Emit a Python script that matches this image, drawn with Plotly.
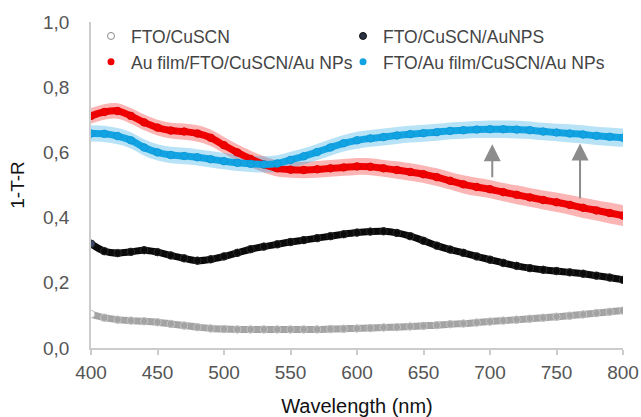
import plotly.graph_objects as go

wavelength = list(range(400, 801, 10))

fto_cuscn = [0.104, 0.093, 0.087, 0.084, 0.082, 0.079, 0.074, 0.069, 0.064, 0.060,
             0.058, 0.057, 0.057, 0.057, 0.057, 0.057, 0.057, 0.057, 0.058, 0.059,
             0.060, 0.061, 0.063, 0.064, 0.066, 0.068, 0.070, 0.073, 0.075, 0.078,
             0.081, 0.084, 0.087, 0.090, 0.093, 0.096, 0.099, 0.103, 0.107, 0.111, 0.115]

fto_cuscn_aunps = [0.320, 0.297, 0.291, 0.295, 0.300, 0.294, 0.284, 0.275, 0.268, 0.272,
                   0.281, 0.292, 0.303, 0.311, 0.318, 0.325, 0.331, 0.337, 0.343, 0.349,
                   0.354, 0.357, 0.358, 0.353, 0.343, 0.329, 0.314, 0.302, 0.292, 0.281,
                   0.271, 0.261, 0.252, 0.245, 0.240, 0.236, 0.232, 0.228, 0.222, 0.216, 0.209]

aufilm_fto = [0.712, 0.724, 0.727, 0.712, 0.692, 0.676, 0.667, 0.664, 0.658, 0.645,
              0.622, 0.600, 0.580, 0.563, 0.551, 0.547, 0.546, 0.548, 0.551, 0.554,
              0.557, 0.556, 0.551, 0.546, 0.540, 0.533, 0.524, 0.513, 0.502, 0.494,
              0.487, 0.478, 0.470, 0.462, 0.454, 0.447, 0.439, 0.430, 0.422, 0.414, 0.406]

aufilm_fto_err = [0.024, 0.024, 0.024, 0.024, 0.024, 0.024, 0.024, 0.025, 0.025, 0.025,
                  0.025, 0.025, 0.025, 0.025, 0.025, 0.025, 0.025, 0.026, 0.026, 0.026,
                  0.026, 0.026, 0.026, 0.027, 0.027, 0.027, 0.027, 0.027, 0.028, 0.028,
                  0.028, 0.028, 0.029, 0.029, 0.029, 0.030, 0.030, 0.031, 0.031, 0.032, 0.032]

fto_aufilm = [0.658, 0.657, 0.650, 0.637, 0.615, 0.600, 0.592, 0.589, 0.585, 0.579,
              0.573, 0.568, 0.565, 0.563, 0.566, 0.577, 0.588, 0.601, 0.615, 0.628,
              0.637, 0.643, 0.647, 0.652, 0.656, 0.659, 0.662, 0.666, 0.668, 0.670,
              0.671, 0.671, 0.670, 0.668, 0.664, 0.661, 0.658, 0.655, 0.651, 0.648, 0.645]

fto_aufilm_err = [0.025, 0.025, 0.025, 0.025, 0.025, 0.025, 0.025, 0.025, 0.025, 0.025,
                  0.025, 0.025, 0.025, 0.025, 0.025, 0.025, 0.025, 0.025, 0.025, 0.025,
                  0.026, 0.026, 0.026, 0.026, 0.026, 0.026, 0.026, 0.026, 0.026, 0.026,
                  0.027, 0.027, 0.027, 0.027, 0.027, 0.027, 0.028, 0.028, 0.028, 0.028, 0.028]

arrow_x = [701.7, 767.7]
arrow_tail = [0.519, 0.455]
arrow_tip = [0.625, 0.627]

names = ["FTO/CuSCN", "FTO/CuSCN/AuNPS", "Au film/FTO/CuSCN/Au NPs", "FTO/Au film/CuSCN/Au NPs"]
legend_ids = ["legend", "legend2", "legend", "legend2"]

FONT = "Liberation Sans, Arial, sans-serif"
fig = go.Figure()


def band(y, err, color):
    upper = [a + b for a, b in zip(y, err)]
    lower = [a - b for a, b in zip(y, err)]
    fig.add_trace(go.Scatter(x=wavelength, y=upper, mode="lines", line=dict(width=0, shape="spline"),
                             showlegend=False, hoverinfo="skip"))
    fig.add_trace(go.Scatter(x=wavelength, y=lower, mode="lines", line=dict(width=0, shape="spline"),
                             fill="tonexty", fillcolor=color, showlegend=False, hoverinfo="skip"))


def series(y, color, mcolor, mline, first_fill=None):
    colors = [mcolor] * len(y)
    if first_fill:
        colors[0] = first_fill
    fig.add_trace(go.Scatter(x=wavelength, y=y, mode="lines+markers",
                             line=dict(color=color, width=7, shape="spline"),
                             marker=dict(size=7.5, color=colors, line=dict(color=mline, width=1)),
                             showlegend=False))


series(fto_cuscn, "#A3A3A3", "#A3A3A3", "#C4C4C4", first_fill="#FFFFFF")
series(fto_cuscn_aunps, "#0A0A0A", "#0A0A0A", "#2A2A2A", first_fill="#3B4A66")
band(aufilm_fto, aufilm_fto_err, "rgba(245,60,60,0.38)")
band(fto_aufilm, fto_aufilm_err, "rgba(40,170,230,0.33)")
series(aufilm_fto, "#F00000", "#F00000", "#E00000")
series(fto_aufilm, "#12A3E3", "#12A3E3", "#0E98D8")

# legend entries
legend_styles = [
    dict(color="#FFFFFF", line=dict(color="#8A8A8A", width=1)),
    dict(color="#2B3345", line=dict(color="#111111", width=1)),
    dict(color="#F00000", line=dict(color="#F00000", width=0)),
    dict(color="#12A3E3", line=dict(color="#12A3E3", width=0)),
]
for n, st, lg in zip(names, legend_styles, legend_ids):
    fig.add_trace(go.Scatter(x=[None], y=[None], mode="markers", name=n, legend=lg,
                             marker=dict(size=7, **st)))

for xa, t0, t1 in zip(arrow_x, arrow_tail, arrow_tip):
    fig.add_annotation(x=xa, y=t1, ax=xa, ay=t0, xref="x", yref="y", axref="x", ayref="y",
                       showarrow=True, arrowhead=2, arrowsize=1.7, arrowwidth=2,
                       arrowcolor="#8C8C8C", text="")

legend_common = dict(orientation="v", yanchor="top", xanchor="left", traceorder="normal",
                     tracegroupgap=0, itemwidth=30, bgcolor="rgba(0,0,0,0)",
                     font=dict(size=17.5, color="#444444", family=FONT))

fig.update_layout(
    width=641, height=417,
    margin=dict(l=91, r=18, t=22, b=69, autoexpand=False),
    paper_bgcolor="white", plot_bgcolor="white",
    separators=",.",
    font=dict(family=FONT, color="#555555"),
    showlegend=True,
    legend=dict(x=0.0, y=1.012, **legend_common),
    legend2=dict(x=0.4737, y=1.012, **legend_common),
)
fig.update_xaxes(range=[400, 800], tickvals=list(range(400, 801, 50)), automargin=False,
                 showline=True, linecolor="#CCCCCC", linewidth=1.5,
                 ticks="outside", ticklen=5, tickcolor="#CCCCCC", tickwidth=1.5,
                 showgrid=False, zeroline=False, ticklabelstandoff=1,
                 tickfont=dict(size=19, color="#555555", family=FONT),
                 title=dict(text="Wavelength (nm)", font=dict(size=20, color="#111111", family=FONT),
                            standoff=20))
fig.update_yaxes(range=[0, 1], tickvals=[0, 0.2, 0.4, 0.6, 0.8, 1.0], tickformat=".1f",
                 automargin=False,
                 showline=True, linecolor="#CCCCCC", linewidth=1.5,
                 ticks="", showgrid=False, zeroline=False, ticklabelstandoff=16,
                 tickfont=dict(size=19, color="#555555", family=FONT),
                 title=dict(text="1-T-R", font=dict(size=19, color="#111111", family=FONT),
                            standoff=13))

fig.write_html("out.html", config={"displayModeBar": False},
               post_script="document.body.style.margin='0';")
